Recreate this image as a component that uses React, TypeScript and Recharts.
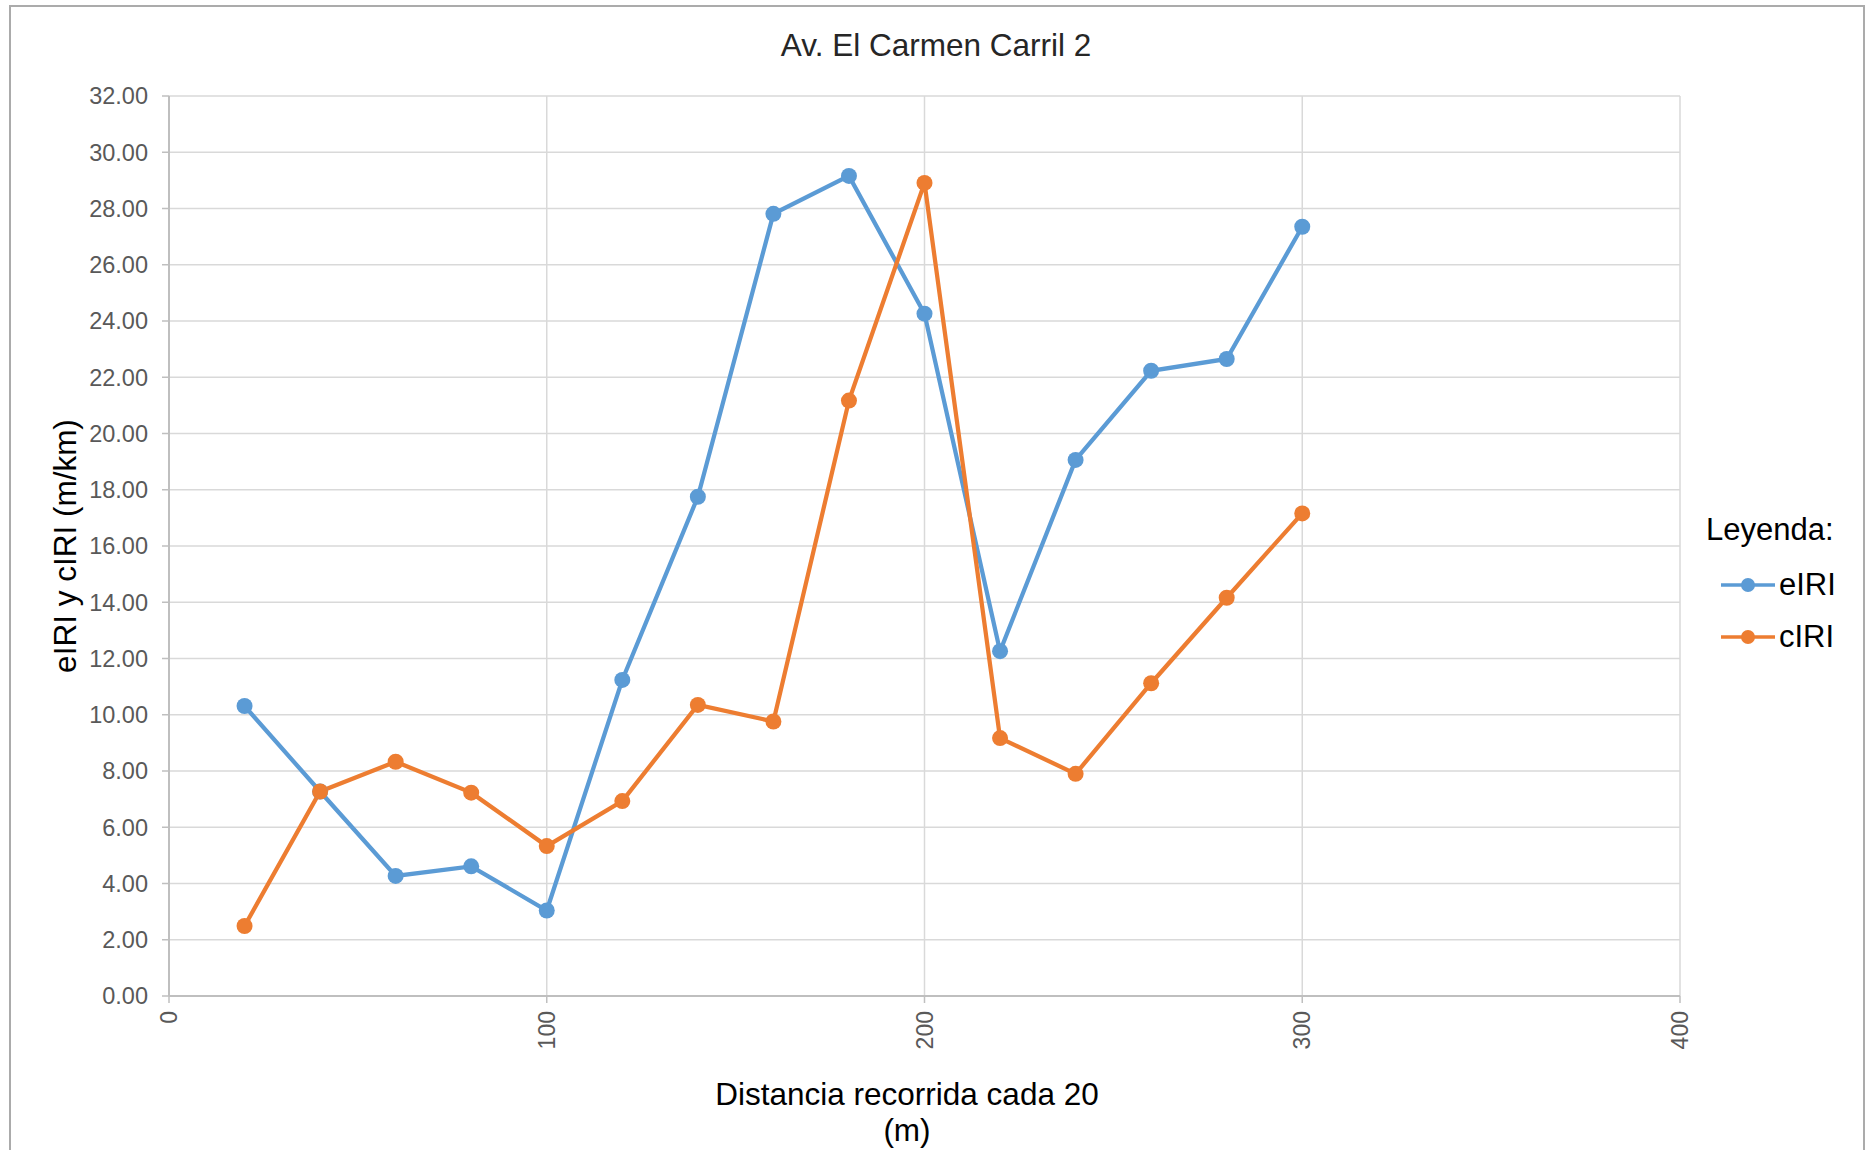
import { LineChart, Line, XAxis, YAxis, CartesianGrid } from "recharts";

const distances = [20, 40, 60, 80, 100, 120, 140, 160, 180, 200, 220, 240, 260, 280, 300];
const eIRI = [10.31, 7.27, 4.27, 4.61, 3.04, 11.24, 17.75, 27.81, 29.16, 24.26, 12.26, 19.06, 22.23, 22.65, 27.35];
const cIRI = [2.49, 7.27, 8.33, 7.23, 5.33, 6.93, 10.35, 9.76, 21.17, 28.91, 9.17, 7.9, 11.12, 14.16, 17.16];
const xTicks = [0, 100, 200, 300, 400];
const yTicks = [0, 2, 4, 6, 8, 10, 12, 14, 16, 18, 20, 22, 24, 26, 28, 30, 32];
const seriesNames = ["eIRI", "cIRI"];

const BLUE = "#5B9BD5";
const ORANGE = "#ED7D31";
const colors = [BLUE, ORANGE];
const FONT = '"Liberation Sans", Arial, sans-serif';

const data = distances.map((d, i) => ({ d, eIRI: eIRI[i], cIRI: cIRI[i] }));

function XTick(props: any) {
  const { x, y, payload } = props;
  return (
    <text
      x={x}
      y={y}
      transform={`rotate(-90, ${x}, ${y})`}
      textAnchor="end"
      dominantBaseline="central"
      fill="#595959"
      fontSize={23}
      fontFamily={FONT}
    >
      {payload.value}
    </text>
  );
}

export default function App() {
  return (
    <div style={{ position: "relative", width: 1865, height: 1150, overflow: "hidden", background: "#fff" }}>
      <style>{`body{margin:0}`}</style>
      <div
        style={{
          position: "absolute",
          left: 9,
          top: 5,
          width: 1852,
          height: 1200,
          border: "2px solid #ababab",
        }}
      />
      <div style={{ position: "absolute", left: 0, top: 0 }}>
        <LineChart width={1865} height={1150} data={data} margin={{ top: 96, right: 185, bottom: 94, left: 0 }}>
          <CartesianGrid stroke="#d9d9d9" strokeWidth={1.5} horizontalValues={yTicks} verticalValues={xTicks} />
          <XAxis
            dataKey="d"
            type="number"
            domain={[0, 400]}
            ticks={xTicks}
            height={60}
            stroke="#bfbfbf"
            strokeWidth={2}
            tickSize={7}
            tickMargin={8}
            tick={<XTick />}
            tickLine={{ stroke: "#bfbfbf", strokeWidth: 1.5 }}
            interval={0}
          />
          <YAxis
            type="number"
            domain={[0, 32]}
            ticks={yTicks}
            width={169}
            stroke="#bfbfbf"
            strokeWidth={2}
            tickSize={7}
            tickMargin={14}
            interval={0}
            tickFormatter={(v: number) => v.toFixed(2)}
            tick={{ fill: "#595959", fontSize: 23.5, fontFamily: FONT }}
            tickLine={{ stroke: "#bfbfbf", strokeWidth: 1.5 }}
          />
          <Line
            type="linear"
            dataKey="eIRI"
            name="eIRI"
            stroke={BLUE}
            strokeWidth={4.25}
            dot={{ r: 8, fill: BLUE, stroke: BLUE, strokeWidth: 0 }}
            activeDot={false}
            isAnimationActive={false}
          />
          <Line
            type="linear"
            dataKey="cIRI"
            name="cIRI"
            stroke={ORANGE}
            strokeWidth={4.25}
            dot={{ r: 8, fill: ORANGE, stroke: ORANGE, strokeWidth: 0 }}
            activeDot={false}
            isAnimationActive={false}
          />
        </LineChart>
      </div>
      <div
        style={{
          position: "absolute",
          left: 636,
          width: 600,
          top: 25,
          textAlign: "center",
          fontFamily: FONT,
          fontSize: 31.5,
          lineHeight: "40px",
          color: "#262626",
        }}
      >
        Av. El Carmen Carril 2
      </div>
      <div
        style={{
          position: "absolute",
          left: 65 - 300,
          top: 546 - 20,
          width: 600,
          height: 40,
          lineHeight: "40px",
          textAlign: "center",
          transform: "rotate(-90deg)",
          fontFamily: FONT,
          fontSize: 31.5,
          color: "#000",
        }}
      >
        eIRI y cIRI (m/km)
      </div>
      <div
        style={{
          position: "absolute",
          left: 607,
          width: 600,
          top: 1076,
          textAlign: "center",
          fontFamily: FONT,
          fontSize: 31.5,
          lineHeight: "36px",
          color: "#000",
        }}
      >
        Distancia recorrida cada 20
        <br />
        (m)
      </div>
      <div style={{ position: "absolute", left: 1706, top: 505, fontFamily: FONT, fontSize: 31, color: "#000" }}>
        <div style={{ height: 54, lineHeight: "50px" }}>Leyenda:</div>
        {seriesNames.map((name, i) => (
          <div key={name} style={{ display: "flex", alignItems: "center", height: 52, marginLeft: 14 }}>
            <svg width={56} height={20} style={{ marginRight: 3 }}>
              <line x1={1} y1={10} x2={55} y2={10} stroke={colors[i]} strokeWidth={3.5} />
              <circle cx={28} cy={10} r={7} fill={colors[i]} />
            </svg>
            <span>{name}</span>
          </div>
        ))}
      </div>
    </div>
  );
}
